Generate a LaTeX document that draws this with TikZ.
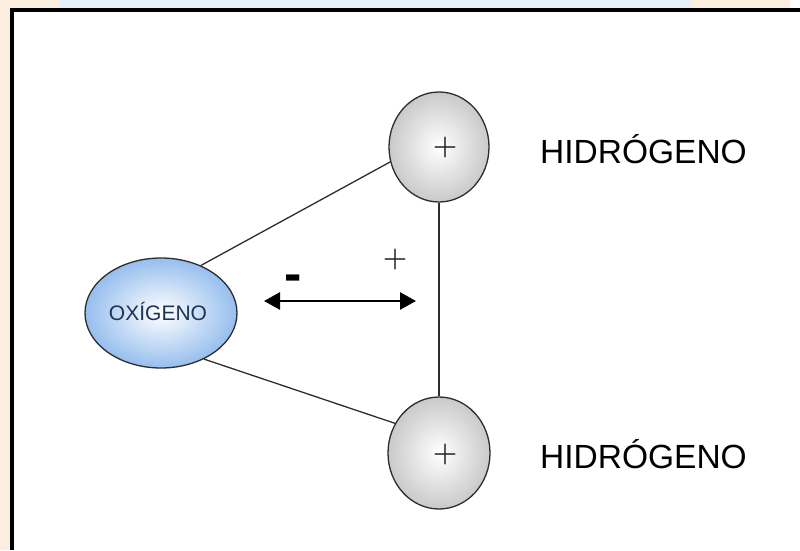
\documentclass[tikz,border=0pt]{standalone}
\usepackage{fontspec}
\newfontfamily\arial{Liberation Sans}
\usetikzlibrary{shapes.geometric,arrows.meta}
\definecolor{oxblue}{RGB}{150,190,238}
\definecolor{oxtext}{RGB}{30,50,90}
\definecolor{edgegray}{RGB}{45,45,45}
\definecolor{pbg}{RGB}{250,238,222}
\definecolor{bbg}{RGB}{228,241,251}
\tikzset{
  atom/.style={ellipse, draw=edgegray, line width=1.3pt, inner sep=0pt, shading=radial, inner color=white, outer color=gray!42},
  oxy/.style={ellipse, draw=edgegray, line width=1.3pt, inner sep=0pt, shading=radial, inner color=white, outer color=oxblue},
  bond/.style={draw=edgegray, line width=1.3pt},
  label/.style={font=\arial\fontsize{33.5}{36}\selectfont, text=black, anchor=base west, inner sep=0pt},
  plus/.style={font=\bfseries\fontsize{28}{30}\selectfont, inner sep=0pt, text=black!85}
}
\begin{document}
\begin{tikzpicture}[x=1pt,y=1pt]
\useasboundingbox (0,0) rectangle (800,550);
\fill[white] (0,0) rectangle (800,550);
\fill[pbg] (0,0) rectangle (11,550);
\fill[pbg] (0,540) rectangle (60,550);
\fill[bbg] (60,540) rectangle (690,550);
\fill[pbg] (690,540) rectangle (790,550);
\draw[line width=4pt, line join=miter] (800,540) -- (12,540) -- (12,0);
% atoms
\node[oxy, minimum width=152pt, minimum height=110pt] (ox) at (161,237) {};
\node[font=\arial\fontsize{21}{23}\selectfont, text=oxtext, anchor=base, inner sep=0pt] (oxt) at (158,230) {OXÍGENO};
\node[atom, minimum width=100pt, minimum height=110pt] (h1) at (439,403) {};
\node[atom, minimum width=102pt, minimum height=112pt] (h2) at (439,97) {};
\node[plus] (p1) at (445,402) {+};
\node[plus] (p2) at (445,95) {+};
% bonds
\draw[bond] (ox.50) -- (h1.197);
\draw[bond] (ox.-47) -- (h2.146);
\draw[bond] (h1.south) -- (h2.north);
% labels
\node[label] (l1) at (540,387) {HIDRÓGENO};
\node[label] (l2) at (540,82) {HIDRÓGENO};
% dipole arrow
\coordinate (aL) at (264,249);
\coordinate (aR) at (416,249);
\draw[line width=2.5pt, {Triangle[length=16pt,width=17pt]}-{Triangle[length=16pt,width=17pt]}] (aL) -- (aR);
\node[font=\arial\bfseries\fontsize{52}{54}\selectfont, anchor=base, inner sep=0pt] (minus) at (293,259) {-};
\node[plus] (p3) at (395,290) {+};
\end{tikzpicture}
\end{document}
